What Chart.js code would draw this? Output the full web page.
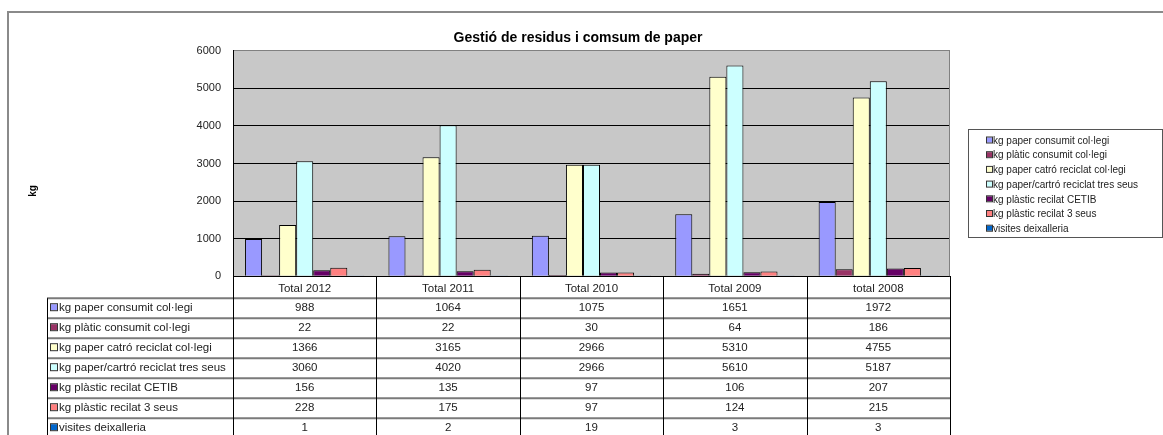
<!DOCTYPE html>
<html>
<head>
<meta charset="utf-8">
<script src="https://cdn.jsdelivr.net/npm/chart.js@4"></script>
<style>
    html, body { margin: 0; padding: 0; background: #fff; }
</style>
</head>
<body>
<canvas id="graficoResidus" width="1163" height="435"></canvas>
<script>
var categorias = ['Total 2012', 'Total 2011', 'Total 2010', 'Total 2009', 'total 2008'];
var nomsSeries = ['kg paper consumit col·legi', 'kg plàtic consumit col·legi', 'kg paper catró reciclat col·legi',
    'kg paper/cartró reciclat tres seus', 'kg plàstic recilat CETIB', 'kg plàstic recilat 3 seus', 'visites deixalleria'];
var paperConsumit = [988, 1064, 1075, 1651, 1972];
var platicConsumit = [22, 22, 30, 64, 186];
var paperReciclatCollegi = [1366, 3165, 2966, 5310, 4755];
var paperReciclatSeus = [3060, 4020, 2966, 5610, 5187];
var plasticCetib = [156, 135, 97, 106, 207];
var plasticSeus = [228, 175, 97, 124, 215];
var visitesDeixalleria = [1, 2, 19, 3, 3];
var ticksY = [0, 1000, 2000, 3000, 4000, 5000, 6000];

var valors = [paperConsumit, platicConsumit, paperReciclatCollegi, paperReciclatSeus, plasticCetib, plasticSeus, visitesDeixalleria];
var colors = ['#9999FF', '#993366', '#FFFFCC', '#CCFFFF', '#660066', '#FF8080', '#0066CC'];
var font = 'Liberation Sans, Arial, sans-serif';

// taula de dades, llegenda, marc i fons de l'area
const taulaPlugin = {
    id: 'taula',
    beforeDraw(chart) {
        const {ctx, chartArea: a} = chart;
        ctx.save();
        ctx.fillStyle = '#c8c8c8';
        ctx.fillRect(a.left, a.top, a.right - a.left, a.bottom - a.top);
        ctx.restore();
    },
    afterDraw(chart) {
        const {ctx, chartArea: a} = chart;
        const x = chart.scales.x;
        const ample = x.width / categorias.length;
        const yCap = a.bottom + 22;
        const alt = 20;
        const esq = 47;

        ctx.save();
        // marc exterior
        ctx.strokeStyle = '#8a8a8a';
        ctx.lineWidth = 2;
        ctx.beginPath();
        ctx.moveTo(8, chart.height);
        ctx.lineTo(8, 12);
        ctx.lineTo(chart.width, 12);
        ctx.stroke();

        // vora dreta de l'area
        ctx.strokeStyle = '#808080';
        ctx.lineWidth = 1;
        ctx.beginPath();
        ctx.moveTo(a.right - 0.5, a.top);
        ctx.lineTo(a.right - 0.5, a.bottom);
        ctx.stroke();

        // linies horitzontals
        ctx.strokeStyle = '#7a7a7a';
        ctx.lineWidth = 2;
        for (let i = 0; i <= nomsSeries.length; i++) {
            const y = yCap + i * alt;
            ctx.beginPath();
            ctx.moveTo(esq, y);
            ctx.lineTo(a.right, y);
            ctx.stroke();
        }
        // linies verticals
        ctx.strokeStyle = '#000';
        ctx.lineWidth = 1;
        for (let i = 0; i <= categorias.length; i++) {
            const px = Math.round(a.left + i * ample) + 0.5;
            ctx.beginPath();
            ctx.moveTo(px, a.bottom);
            ctx.lineTo(px, chart.height);
            ctx.stroke();
        }
        ctx.beginPath();
        ctx.moveTo(esq + 0.5, yCap);
        ctx.lineTo(esq + 0.5, chart.height);
        ctx.stroke();

        // textos de la taula
        ctx.font = '11.5px ' + font;
        ctx.textBaseline = 'middle';
        nomsSeries.forEach((nom, s) => {
            const yc = yCap + s * alt + alt / 2;
            ctx.fillStyle = colors[s];
            ctx.fillRect(51, yc - 4, 6, 6);
            ctx.strokeStyle = '#333';
            ctx.strokeRect(50.5, yc - 4.5, 7, 7);
            ctx.fillStyle = '#222';
            ctx.textAlign = 'left';
            ctx.fillText(nom, 59, yc);
            ctx.textAlign = 'center';
            valors[s].forEach((v, c) => {
                ctx.fillText(String(v), x.getPixelForValue(c), yc);
            });
        });

        // llegenda
        const lx = a.right + 18, ly = 129, lw = 194, lh = 108;
        ctx.strokeStyle = '#555';
        ctx.lineWidth = 1;
        ctx.strokeRect(lx + 0.5, ly + 0.5, lw, lh);
        ctx.font = '10px ' + font;
        ctx.textAlign = 'left';
        nomsSeries.forEach((nom, s) => {
            const yc = ly + 12 + s * 14.7;
            ctx.fillStyle = colors[s];
            ctx.fillRect(lx + 19, yc - 3.5, 5, 5);
            ctx.strokeStyle = '#333';
            ctx.strokeRect(lx + 18.5, yc - 4, 6, 6);
            ctx.fillStyle = '#222';
            ctx.fillText(nom, lx + 25, yc);
        });

        // titol de l'eix
        ctx.translate(33, 191);
        ctx.rotate(-Math.PI / 2);
        ctx.font = 'bold 10px ' + font;
        ctx.textAlign = 'center';
        ctx.fillStyle = '#000';
        ctx.fillText('kg', 0, 0);
        ctx.restore();
    }
};

const ctx = document.getElementById('graficoResidus').getContext('2d');
const grafico = new Chart(ctx, {
    type: 'bar',
    data: {
        labels: categorias,
        datasets: nomsSeries.map((nom, s) => ({
            label: nom,
            data: valors[s],
            backgroundColor: colors[s],
            borderColor: '#000',
            borderWidth: 1,
            categoryPercentage: 0.832,
            barPercentage: 1
        }))
    },
    options: {
        responsive: false,
        animation: false,
        devicePixelRatio: 1,
        layout: {padding: {top: 11, left: 7, right: 14, bottom: 133}},
        plugins: {
            legend: {display: false},
            tooltip: {enabled: false},
            title: {
                display: true,
                text: 'Gestió de residus i comsum de paper',
                color: '#000',
                font: {family: font, size: 14, weight: 'bold'},
                padding: {top: 19, bottom: 4}
            }
        },
        scales: {
            x: {
                grid: {display: false, drawTicks: false},
                border: {color: '#000', width: 1},
                ticks: {color: '#222', font: {family: font, size: 11.5}, padding: 6}
            },
            y: {
                min: 0,
                max: 6000,
                afterBuildTicks: s => { s.ticks = ticksY.map(v => ({value: v})); },
                afterFit: s => { s.width = 226; },
                grid: {
                    drawTicks: false,
                    color: c => c.tick && c.tick.value === 6000 ? '#808080' : '#000'
                },
                border: {color: '#000', width: 1},
                ticks: {color: '#222', font: {family: font, size: 11}, padding: 12, callback: v => String(v)}
            },
            dreta: {
                type: 'linear',
                position: 'right',
                grid: {display: false},
                border: {display: false},
                ticks: {display: false},
                afterFit: s => { s.width = 199; }
            }
        }
    },
    plugins: [taulaPlugin]
});
</script>
</body>
</html>
